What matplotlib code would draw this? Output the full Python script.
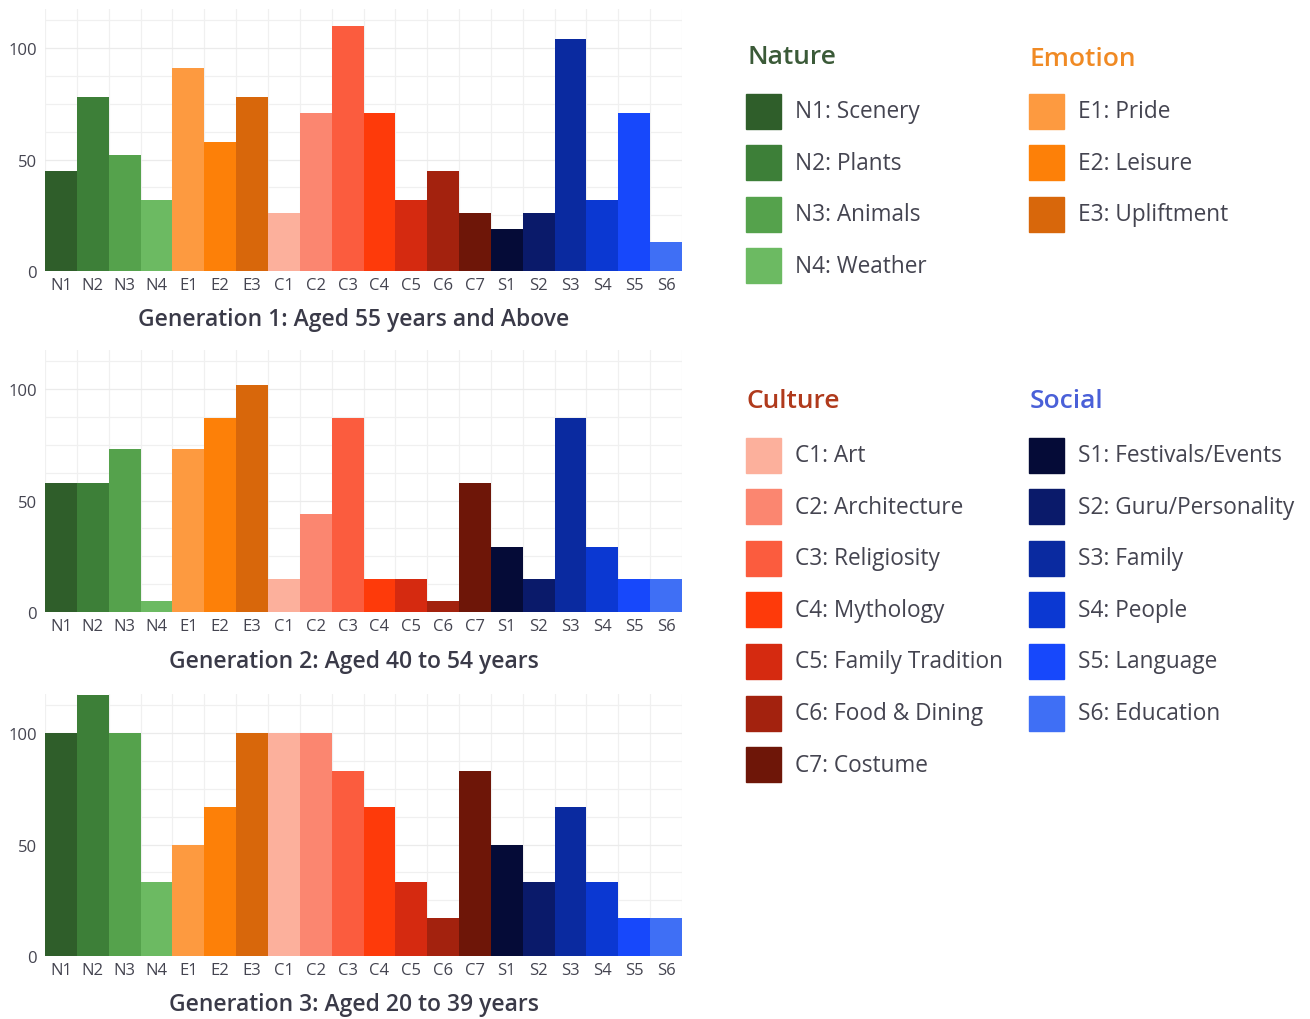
import matplotlib
matplotlib.use("Agg")
import matplotlib.pyplot as plt
from matplotlib.patches import Rectangle
import numpy as np

plt.rcParams['font.family'] = ['Open Sans', 'Noto Sans', 'DejaVu Sans']

# category codes, names and colours
codes = ['N1', 'N2', 'N3', 'N4', 'E1', 'E2', 'E3', 'C1', 'C2', 'C3', 'C4', 'C5', 'C6', 'C7',
         'S1', 'S2', 'S3', 'S4', 'S5', 'S6']
names = ['Scenery', 'Plants', 'Animals', 'Weather', 'Pride', 'Leisure', 'Upliftment',
         'Art', 'Architecture', 'Religiosity', 'Mythology', 'Family Tradition', 'Food & Dining', 'Costume',
         'Festivals/Events', 'Guru/Personality', 'Family', 'People', 'Language', 'Education']
colors = ['#2f5e2a', '#3d7f38', '#55a24c', '#6cba62',
          '#fd9a40', '#fd8008', '#d8670b',
          '#fcb09c', '#fb8670', '#fb5c3e', '#fe3a0a', '#d52a10', '#a3220e', '#6e1608',
          '#050b37', '#0a1a6a', '#0a2aa0', '#0b38d2', '#1748fb', '#3f6ff5']

# values per generation
gen1 = [45, 78, 52, 32, 91, 58, 78, 26, 71, 110, 71, 32, 45, 26, 19, 26, 104, 32, 71, 13]
gen2 = [58, 58, 73, 5, 73, 87, 102, 15, 44, 87, 15, 15, 5, 58, 29, 15, 87, 29, 15, 15]
gen3 = [100, 117, 100, 33, 50, 67, 100, 100, 100, 83, 67, 33, 17, 83, 50, 33, 67, 33, 17, 17]

titles = ['Generation 1: Aged 55 years and Above',
          'Generation 2: Aged 40 to 54 years',
          'Generation 3: Aged 20 to 39 years']

groups = ['Nature', 'Emotion', 'Culture', 'Social']
group_colors = ['#3b5a38', '#f08a24', '#b03a1c', '#4a60d8']

W, H = 1310, 1020
fig = plt.figure(figsize=(W / 100, H / 100), dpi=100)

text_col = '#444450'
title_col = '#3a3a48'

# (baseline px, title y px) of each panel
panel_px = [(272, 320), (613, 662), (957, 1005)]
ymax = 117.5
for vals, title, (base, ty) in zip([gen1, gen2, gen3], titles, panel_px):
    top = base - 262
    ax = fig.add_axes([45 / W, 1 - base / H, (682 - 45) / W, (base - top) / H])
    x = np.arange(len(codes))
    ax.bar(x, vals, width=1.0, color=colors, zorder=2)
    ax.set_xlim(-0.5, len(codes) - 0.5)
    ax.set_ylim(0, ymax)
    ax.set_xticks(x)
    ax.set_xticklabels(codes, fontsize=12, color=text_col)
    ax.set_yticks([0, 50, 100])
    ax.set_yticklabels(['0', '50', '100'], fontsize=12, color=text_col)
    ax.set_xticks(np.arange(-0.5, len(codes), 1), minor=True)
    ax.set_yticks(np.arange(0, ymax, 12.5), minor=True)
    ax.tick_params(axis='both', which='both', length=0)
    ax.tick_params(axis='x', pad=4)
    ax.tick_params(axis='y', pad=6)
    ax.grid(which='minor', color='#f0f0f0', linewidth=0.9, zorder=0)
    ax.grid(which='major', axis='y', color='#ebebeb', linewidth=0.9, zorder=0)
    for s in ax.spines.values():
        s.set_visible(False)
    fig.text(354 / W, 1 - ty / H, title, ha='center', va='center',
             fontsize=16.5, fontweight='semibold', color=title_col)

# legend drawn in pixel space
lg = fig.add_axes([0, 0, 1, 1])
lg.set_xlim(0, W)
lg.set_ylim(H, 0)
lg.axis('off')

prefix = [c[0] for c in codes]
# (x px, title y px, first row y px) for each group block
blocks = [(746, 58, 112), (1029, 60, 112), (746, 402, 456), (1029, 402, 456)]
sq = 35
for g, gc, (bx, by, ry) in zip(groups, group_colors, blocks):
    lg.text(bx + 1, by, g, fontsize=19, fontweight='semibold', color=gc, va='center', ha='left')
    idx = [i for i, p in enumerate(prefix) if p == g[0]]
    for k, i in enumerate(idx):
        yy = ry + k * 51.6
        lg.add_patch(Rectangle((bx, yy - sq / 2), sq, sq, color=colors[i]))
        lg.text(bx + 49, yy, f'{codes[i]}: {names[i]}', fontsize=16.3, color=text_col,
                va='center', ha='left')

fig.savefig('out.png', dpi=100, facecolor='white')
